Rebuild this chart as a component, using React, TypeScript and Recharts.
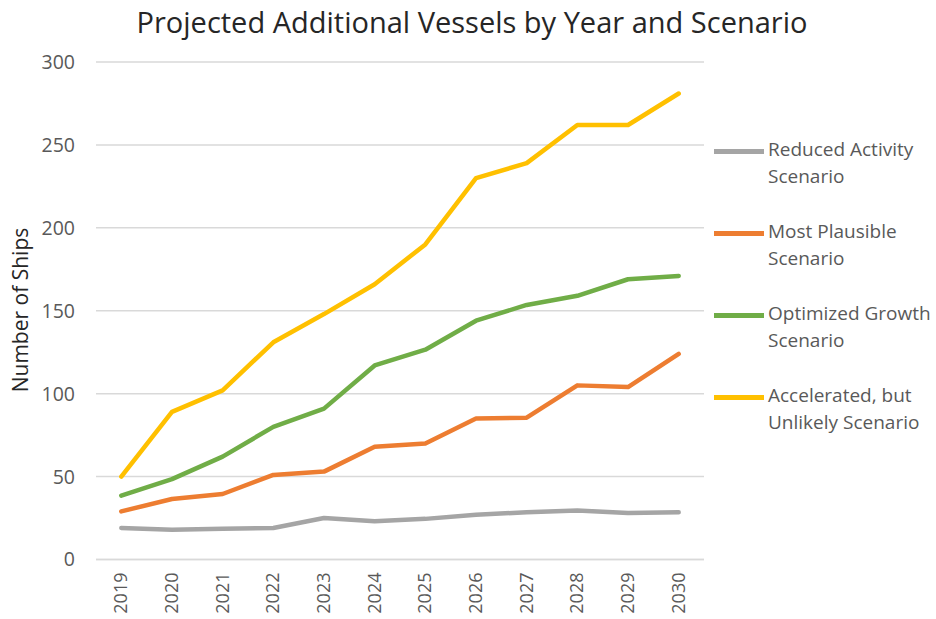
import React from 'react'
import { LineChart, Line, XAxis, YAxis, CartesianGrid } from 'recharts'

const years = ['2019', '2020', '2021', '2022', '2023', '2024', '2025', '2026', '2027', '2028', '2029', '2030']

const reducedActivity = [19, 18, 18.5, 19, 25, 23, 24.5, 27, 28.5, 29.5, 28, 28.5]
const mostPlausible = [29, 36.5, 39.5, 51, 53, 68, 70, 85, 85.5, 105, 104, 124]
const optimizedGrowth = [38.5, 48.5, 62, 80, 91, 117, 126.5, 144, 153.5, 159, 169, 171]
const accelerated = [50, 89, 102, 131, 148, 166, 190, 230, 239, 262, 262, 281]

const yTicks = [0, 50, 100, 150, 200, 250, 300]

const series = [
  { key: 'reduced', label: ['Reduced Activity', 'Scenario'], color: '#A5A5A5', values: reducedActivity },
  { key: 'plausible', label: ['Most Plausible', 'Scenario'], color: '#ED7D31', values: mostPlausible },
  { key: 'optimized', label: ['Optimized Growth', 'Scenario'], color: '#70AD47', values: optimizedGrowth },
  { key: 'accelerated', label: ['Accelerated, but', 'Unlikely Scenario'], color: '#FFC000', values: accelerated },
]

const data = years.map((year, i) => {
  const row: Record<string, string | number> = { year }
  series.forEach((s) => {
    row[s.key] = s.values[i]
  })
  return row
})

const FONT = '"Open Sans", sans-serif'
const TEXT = '#595959'

// rotated year labels, read bottom to top
const YearTick = ({ x, y, payload }: any) => (
  <text
    x={0}
    y={0}
    transform={`translate(${x + 6},${y + 5}) rotate(-90)`}
    textAnchor="end"
    fontSize={18}
    fontFamily={FONT}
    fill={TEXT}
  >
    {payload.value}
  </text>
)

export default function App() {
  return (
    <div style={{ position: 'fixed', left: 0, top: 0, width: 936, height: 619, background: '#fff' }}>
      <div
        style={{
          position: 'absolute',
          top: 0,
          left: 0,
          width: 944,
          textAlign: 'center',
          fontFamily: FONT,
          fontSize: 29,
          lineHeight: '44px',
          color: '#262626',
        }}
      >
        Projected Additional Vessels by Year and Scenario
      </div>
      <div
        style={{
          position: 'absolute',
          left: 20 - 150,
          top: 310 - 15,
          width: 300,
          height: 30,
          lineHeight: '30px',
          textAlign: 'center',
          transform: 'rotate(-90deg)',
          fontFamily: FONT,
          fontSize: 21,
          color: '#262626',
        }}
      >
        Number of Ships
      </div>
      <LineChart width={936} height={619} data={data} margin={{ top: 62, right: 232, bottom: 0, left: 36 }}>
        <CartesianGrid vertical={false} stroke="#D9D9D9" strokeWidth={1.5} />
        <XAxis
          dataKey="year"
          axisLine={{ stroke: '#D9D9D9', strokeWidth: 1.5 }}
          tickLine={false}
          height={59.5}
          interval={0}
          padding={{ left: 25.3, right: 25.3 }}
          tick={<YearTick />}
        />
        <YAxis
          domain={[0, 300]}
          ticks={yTicks}
          axisLine={false}
          tickLine={false}
          width={60}
          tickMargin={15}
          tick={{ fontSize: 19.5, fontFamily: FONT, fill: TEXT }}
        />
        {series.map((s) => (
          <Line
            key={s.key}
            type="linear"
            dataKey={s.key}
            stroke={s.color}
            strokeWidth={4.5}
            dot={false}
            strokeLinejoin="round"
            strokeLinecap="round"
            isAnimationActive={false}
          />
        ))}
      </LineChart>
      {series.map((s, i) => (
        <div
          key={s.key}
          style={{
            position: 'absolute',
            left: 714,
            top: 136 + i * 82,
            display: 'flex',
            alignItems: 'flex-start',
            fontFamily: FONT,
            fontSize: 19,
            lineHeight: '27px',
            color: TEXT,
            whiteSpace: 'nowrap',
          }}
        >
          <span style={{ width: 50, height: 4.5, background: s.color, marginTop: 13, marginRight: 4, flex: 'none' }} />
          <span>
            {s.label[0]}
            <br />
            {s.label[1]}
          </span>
        </div>
      ))}
    </div>
  )
}
